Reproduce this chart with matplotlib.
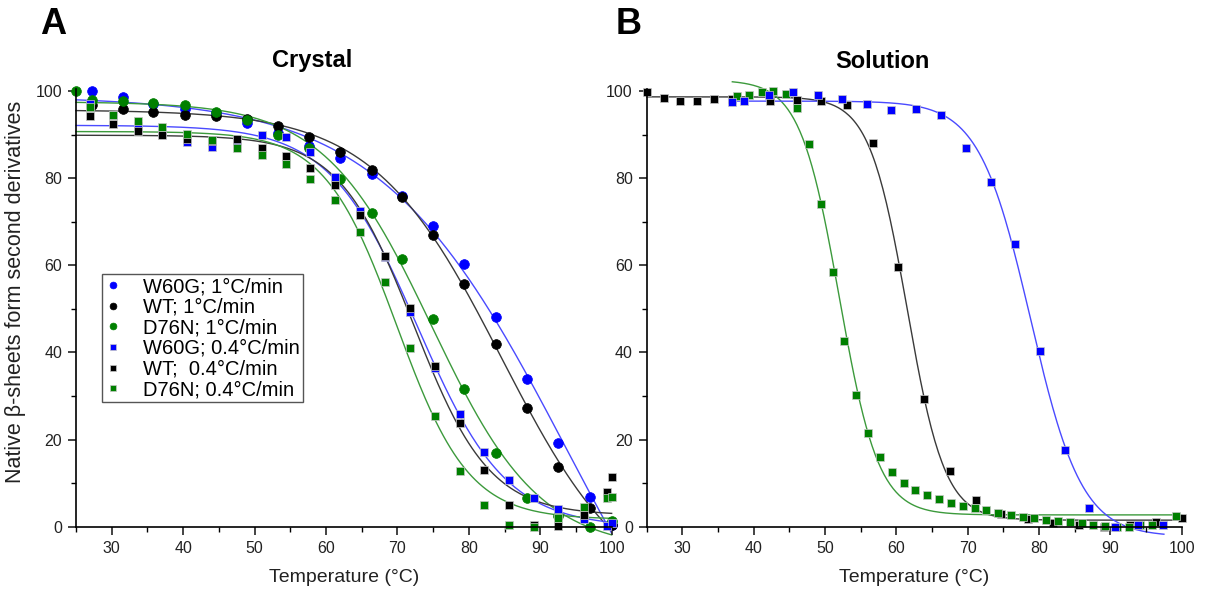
import numpy as np
import matplotlib
matplotlib.use('Agg')
import matplotlib.pyplot as plt
from matplotlib.ticker import MultipleLocator

plt.rcParams['font.family'] = ['Liberation Sans', 'DejaVu Sans']

# ── Panel A (crystal) : 1 °C/min, circles ─────────────────────────
tA_fast = [27.2, 31.6, 35.8, 40.3, 44.6, 48.9, 53.3, 57.6, 62.0, 66.4,
           70.7, 75.0, 79.3, 83.8, 88.2, 92.5, 96.9, 100.0]
w60g_fast = [100.0, 98.7, 97.0, 96.0, 94.9, 92.6, 90.5, 87.5, 84.6, 81.0,
             76.0, 69.1, 60.2, 48.2, 33.9, 19.1, 6.9, 0.4]
wt_fast = [96.8, 95.9, 95.2, 94.6, 94.3, 93.7, 92.0, 89.5, 86.1, 81.8,
           75.7, 67.0, 55.8, 41.9, 27.3, 13.6, 4.2, 0.5]
tA_fast_d76n = [25.0, 27.2, 31.6, 35.8, 40.3, 44.6, 48.9, 53.3, 57.6, 62.0,
                66.4, 70.7, 75.0, 79.3, 83.8, 88.2, 92.5, 96.9, 100.0]
d76n_fast = [100.0, 97.9, 97.7, 97.3, 96.8, 95.2, 93.3, 90.0, 87.0, 79.9,
             72.0, 61.5, 47.6, 31.6, 16.9, 6.5, 2.5, 0.0, 1.4]

# ── Panel A (crystal) : 0.4 °C/min, squares ───────────────────────
tA_slow = [26.9, 30.2, 33.7, 37.1, 40.6, 44.0, 47.5, 51.0, 54.4, 57.8,
           61.3, 64.8, 68.3, 71.7, 75.2, 78.7, 82.1, 85.6, 89.1, 92.5,
           96.1, 99.4, 100.0]
w60g_slow = [97.0, 94.5, 92.0, 90.5, 88.4, 87.2, 88.5, 89.9, 89.5, 86.0,
             80.2, 72.4, 62.0, 49.2, 36.5, 25.8, 17.1, 10.7, 6.7, 4.0,
             1.7, 0.2, 0.8]
wt_slow = [94.3, 92.4, 90.8, 89.9, 89.0, 88.6, 89.1, 86.9, 85.0, 82.3,
           78.5, 71.6, 62.2, 50.3, 37.0, 23.8, 13.0, 5.0, 0.3, 0.2,
           2.7, 8.0, 11.4]
d76n_slow = [96.4, 94.5, 93.1, 91.8, 90.1, 88.8, 87.0, 85.3, 83.3, 79.9,
             75.1, 67.7, 56.2, 41.1, 25.4, 12.8, 5.0, 0.5, 0.0, 1.9,
             4.6, 6.5, 6.9]

# ── Panel B (solution) ────────────────────────────────────────────
tB_wt = [25.0, 27.4, 29.7, 32.1, 34.5, 37.0, 42.3, 46.0, 49.5, 53.1,
         56.7, 60.2, 63.9, 67.5, 71.1, 74.7, 78.4, 82.0, 85.6, 89.1,
         92.7, 96.4, 100.0]
wt_sol = [99.7, 98.4, 97.8, 97.7, 98.1, 98.3, 97.8, 97.9, 97.8, 96.8,
          88.0, 59.6, 29.3, 12.7, 6.1, 3.0, 1.7, 0.8, 0.4, 0.0,
          0.5, 1.0, 2.1]
tB_d76n = [37.6, 39.4, 41.1, 42.7, 44.5, 46.1, 47.8, 49.4, 51.1, 52.7,
           54.4, 56.0, 57.7, 59.4, 61.0, 62.6, 64.3, 66.0, 67.6, 69.4,
           71.0, 72.6, 74.3, 76.0, 77.7, 79.3, 81.0, 82.7, 84.3, 86.0,
           87.6, 89.3, 90.9, 92.6, 94.2, 95.8, 99.2]
d76n_sol = [98.9, 99.2, 99.7, 100.0, 99.4, 96.2, 87.8, 74.1, 58.4, 42.7,
            30.3, 21.6, 16.0, 12.6, 10.1, 8.5, 7.2, 6.3, 5.5, 4.7,
            4.2, 3.8, 3.2, 2.7, 2.3, 1.9, 1.5, 1.4, 1.1, 0.8,
            0.4, 0.2, 0.0, 0.0, 0.3, 0.3, 2.5]
tB_w60g = [37.0, 38.6, 42.2, 45.5, 49.0, 52.4, 55.9, 59.3, 62.8, 66.3,
           69.7, 73.2, 76.6, 80.1, 83.6, 87.0, 90.6, 93.9, 97.4]
w60g_sol = [97.4, 97.7, 99.2, 99.8, 99.1, 98.3, 97.1, 95.6, 95.9, 94.5,
            87.0, 79.2, 64.8, 40.4, 17.7, 4.2, 0.0, 0.5, 0.3]

labels = ["W60G; 1°C/min", "WT; 1°C/min", "D76N; 1°C/min",
          "W60G; 0.4°C/min", "WT;  0.4°C/min", "D76N; 0.4°C/min"]

BLUE, BLACK, GREEN = '#0000ff', '#000000', '#008000'
FIT = {BLUE: '#4a4aff', BLACK: '#3a3a3a', GREEN: '#3c9a3c'}


def boltzmann_fit(t, y):
    # least-squares Boltzmann: grid over Tm, dT; linear solve for top/bottom
    t = np.asarray(t, float)
    y = np.asarray(y, float)
    tms = np.arange(35, 100, 0.1)
    best = None
    with np.errstate(all='ignore'):
        for dt in np.arange(0.5, 15, 0.05):
            s = 1.0 / (1.0 + np.exp((t[None, :] - tms[:, None]) / dt))
            ds = s - s.mean(1, keepdims=True)
            dy = y - y.mean()
            b = (ds * dy).sum(1) / (ds ** 2).sum(1)
            a = y.mean() - b * s.mean(1)
            res = ((dy[None, :] - b[:, None] * ds) ** 2).sum(1)
            res = np.where(np.isfinite(res), res, np.inf)
            i = int(np.argmin(res))
            if best is None or res[i] < best[0]:
                best = (res[i], a[i], b[i], tms[i], dt)
    _, a, b, tm, dt = best
    return lambda x: a + b / (1.0 + np.exp((x - tm) / dt))


fig = plt.figure(figsize=(12.05, 5.96), dpi=100)
axA = fig.add_axes([0.0631, 0.1163, 0.4445, 0.7344])
axB = fig.add_axes([0.5367, 0.1163, 0.4440, 0.7344])

seriesA = [
    (tA_fast, w60g_fast, BLUE, 'o', labels[0]),
    (tA_fast, wt_fast, BLACK, 'o', labels[1]),
    (tA_fast_d76n, d76n_fast, GREEN, 'o', labels[2]),
    (tA_slow, w60g_slow, BLUE, 's', labels[3]),
    (tA_slow, wt_slow, BLACK, 's', labels[4]),
    (tA_slow, d76n_slow, GREEN, 's', labels[5]),
]
seriesB = [
    (tB_wt, wt_sol, BLACK, 's', 25.0, 100.0),
    (tB_d76n, d76n_sol, GREEN, 's', 37.0, 100.0),
    (tB_w60g, w60g_sol, BLUE, 's', 37.0, 97.5),
]

handles = []
for t, y, c, m, lab in seriesA:
    f = boltzmann_fit(t, y)
    xx = np.linspace(25, 100, 300)
    axA.plot(xx, f(xx), color=FIT[c], lw=1.0, zorder=1, clip_on=False)
for t, y, c, m, lab in seriesA:
    h, = axA.plot(t, y, ls='none', marker=m, color=c, ms=7 if m == 'o' else 6,
                  mec='#c8c8c8' if m == 's' else c, mew=0.5, zorder=2,
                  clip_on=False, label=lab)
    handles.append(h)

for t, y, c, m, x0, x1 in seriesB:
    f = boltzmann_fit(t, y)
    xx = np.linspace(x0, x1, 300)
    axB.plot(xx, f(xx), color=FIT[c], lw=1.0, zorder=1, clip_on=False)
for t, y, c, m, x0, x1 in seriesB:
    axB.plot(t, y, ls='none', marker=m, color=c, ms=6, mec='#c8c8c8',
             mew=0.5, zorder=2, clip_on=False)

for ax in (axA, axB):
    ax.set_xlim(25, 100)
    ax.set_ylim(0, 100.5)
    ax.spines['top'].set_visible(False)
    ax.spines['right'].set_visible(False)
    for sp in ('left', 'bottom'):
        ax.spines[sp].set_linewidth(1.2)
    ax.xaxis.set_major_locator(MultipleLocator(10))
    ax.xaxis.set_minor_locator(MultipleLocator(5))
    ax.yaxis.set_major_locator(MultipleLocator(20))
    ax.yaxis.set_minor_locator(MultipleLocator(10))
    ax.set_xticks([30, 40, 50, 60, 70, 80, 90, 100])
    ax.tick_params(which='major', length=6, width=1.2, labelsize=11.5,
                   colors='#222222', pad=4)
    ax.tick_params(which='minor', length=3.5, width=1.0)
    ax.set_xlabel("Temperature (°C)", fontsize=14, labelpad=10,
                  color='#222222')

axA.set_ylabel("Native β-sheets form second derivatives", fontsize=15.5,
               color='#222222')
axA.yaxis.set_label_coords(-0.094, 0.536)

leg = axA.legend(handles=handles, loc='upper left',
                 bbox_to_anchor=(0.048, 0.577), borderaxespad=0,
                 fontsize=14.5, frameon=True, fancybox=False,
                 edgecolor='#555555', framealpha=1, borderpad=0.15,
                 labelspacing=0.08, handlelength=0.8, handletextpad=1.1,
                 markerscale=0.7)
leg.get_frame().set_linewidth(1.0)

fig.text(312 / 1205, 1 - 61 / 596, "Crystal", ha='center', va='center',
         fontsize=17, fontweight='bold')
fig.text(882 / 1205, 1 - 61 / 596, "Solution", ha='center', va='center',
         fontsize=17, fontweight='bold')
fig.text(53 / 1205, 1 - 24 / 596, "A", ha='center', va='center',
         fontsize=26, fontweight='bold')
fig.text(629 / 1205, 1 - 24 / 596, "B", ha='center', va='center',
         fontsize=26, fontweight='bold')

plt.savefig("out.png", dpi=100)
plt.close()
